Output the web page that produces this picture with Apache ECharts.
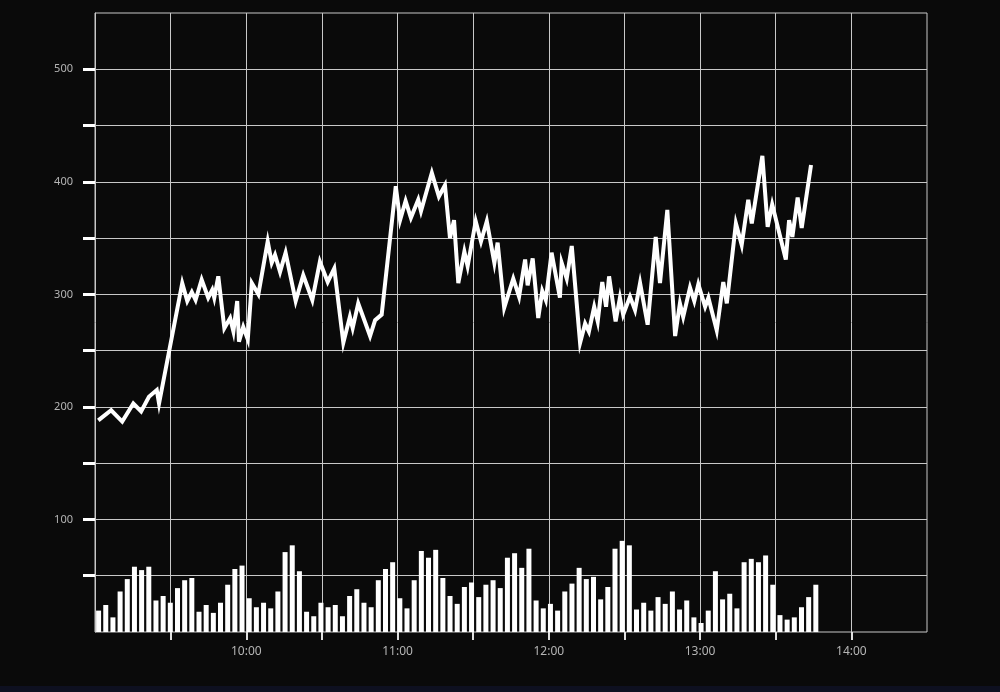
<!DOCTYPE html>
<html>
<head>
<meta charset="utf-8">
<style>
html,body{margin:0;padding:0;background:#0a0a0a;}
#chart{width:1000px;height:692px;}
</style>
<script src="https://cdn.jsdelivr.net/npm/echarts@6/dist/echarts.min.js"></script>
</head>
<body>
<div id="chart"></div>
<script>
// Volume bars (one per period, left to right)
const volumeValues = [19,24,13,36,47,58,55,58,28,32,26,39,46,48,18,24,17,26,42,56,59,30,22,26,21,36,71,77,54,18,14,26,22,24,14,32,38,26,22,46,56,62,30,21,46,72,66,73,48,32,25,40,44,31,42,46,39,66,70,57,74,28,21,25,19,36,43,57,47,49,29,40,74,81,77,20,26,19,31,25,36,20,28,13,8,19,54,29,34,21,62,65,62,68,42,15,11,13,22,31,42];
const volumeSlots = 116; // period slots across the session (incl. empty ones at the end)

// Price line: minutes after 09:00 and price
const lineMinutes = [1.3,6.4,10.8,15.2,18.3,21.4,24.5,25.4,34.6,36.6,38.4,39.9,42.3,44.9,46.5,47.3,48.9,51.3,53.6,54.9,56.4,57.1,58.8,60.6,62.2,64.8,68.5,70.1,71.4,73.4,75.6,79.6,82.6,86.2,89.2,92.3,94.9,98.5,101.1,102.2,104.4,109.1,111.1,113.7,119.3,121.0,123.2,125.3,128.2,129.3,133.6,136.4,138.8,140.8,142.4,144.1,146.5,147.8,151.0,153.1,155.4,158.4,159.7,162.3,165.9,168.2,170.6,171.6,173.6,175.8,177.4,178.8,181.1,184.4,185.1,187.1,189.1,192.4,194.4,195.9,198.0,199.4,201.2,202.7,203.9,206.5,208.2,209.5,212.2,214.2,216.2,219.2,222.4,224.1,227.0,230.1,232.0,233.3,236.0,237.7,239.3,242.0,243.3,246.6,249.2,250.6,254.2,256.5,259.1,260.5,264.7,266.8,268.6,274.0,275.3,276.6,278.7,280.3,284.0];
const lineValues = [188,197,187,203,196,209,215,203,310,294,302,295,313,297,304,297,316,270,279,267,294,258,271,260,310,300,347,328,335,320,337,294,317,295,329,311,323,257,280,270,292,263,277,282,396,366,383,368,384,374,408,387,397,350,366,310,338,325,365,347,365,328,346,288,314,298,331,308,332,279,303,295,337,297,328,314,343,257,274,267,289,276,311,289,316,276,297,282,298,286,310,273,351,310,375,263,292,280,306,294,309,289,297,268,311,292,363,344,384,363,423,360,380,331,366,351,386,359,415];

// Axis ticks / labels
const yTickValues = [50,100,150,200,250,300,350,400,450,500];
const yLabelValues = [100,200,300,400,500];
const xTickMinutes = [30,60,90,120,150,180,210,240,270,300];
const xLabelMinutes = [60,120,180,240,300];

const categories = Array.from({length: volumeSlots}, (_, i) => String(i));
const paddedVolume = categories.map((c, i) => i < volumeValues.length ? volumeValues[i] : null);
const linePoints = lineMinutes.map((m, i) => [m, lineValues[i]]);

const chart = echarts.init(document.getElementById('chart'), null, {renderer: 'canvas'});
const labelColor = '#b5b5b5';
const gridColor = '#c8c8c8';
chart.setOption({
  backgroundColor: '#0a0a0a',
  animation: false,
  graphic: [{
    type: 'rect', left: 0, bottom: 0, shape: {width: 1000, height: 6},
    style: {fill: '#0e1020'}, z: 0
  }],
  grid: {left: 95, right: 73, top: 13, bottom: 60, containLabel: false,
         show: true, borderColor: gridColor, borderWidth: 1, backgroundColor: 'transparent'},
  xAxis: [
    {
      type: 'category', data: categories, boundaryGap: true, show: false, gridIndex: 0
    },
    {
      type: 'value', min: 0, max: 330, interval: 30, gridIndex: 0, position: 'bottom',
      axisLine: {show: false},
      axisTick: {show: true, length: 8, customValues: xTickMinutes, lineStyle: {color: '#e0e0e0', width: 2}},
      axisLabel: {
        customValues: xLabelMinutes, color: labelColor, fontSize: 12, margin: 14,
        fontFamily: 'Noto Sans',
        formatter: v => (9 + v / 60) + ':00'
      },
      splitLine: {show: true, lineStyle: {color: gridColor, width: 1}}
    }
  ],
  yAxis: {
    type: 'value', min: 0, max: 550, interval: 50,
    axisLine: {show: true, lineStyle: {color: gridColor, width: 1}},
    axisTick: {show: true, length: 12, customValues: yTickValues, lineStyle: {color: '#ffffff', width: 3}},
    axisLabel: {customValues: yLabelValues, color: labelColor, fontSize: 11, margin: 22, fontFamily: 'Noto Sans'},
    splitLine: {show: true, lineStyle: {color: gridColor, width: 1}}
  },
  series: [
    {
      type: 'bar', xAxisIndex: 0, data: paddedVolume, barWidth: 5,
      itemStyle: {color: '#ffffff'}, z: 3
    },
    {
      type: 'line', xAxisIndex: 1, data: linePoints, showSymbol: false, symbol: 'none',
      lineStyle: {color: '#ffffff', width: 4, join: 'miter', miterLimit: 6}, z: 4
    }
  ]
});
</script>
</body>
</html>
